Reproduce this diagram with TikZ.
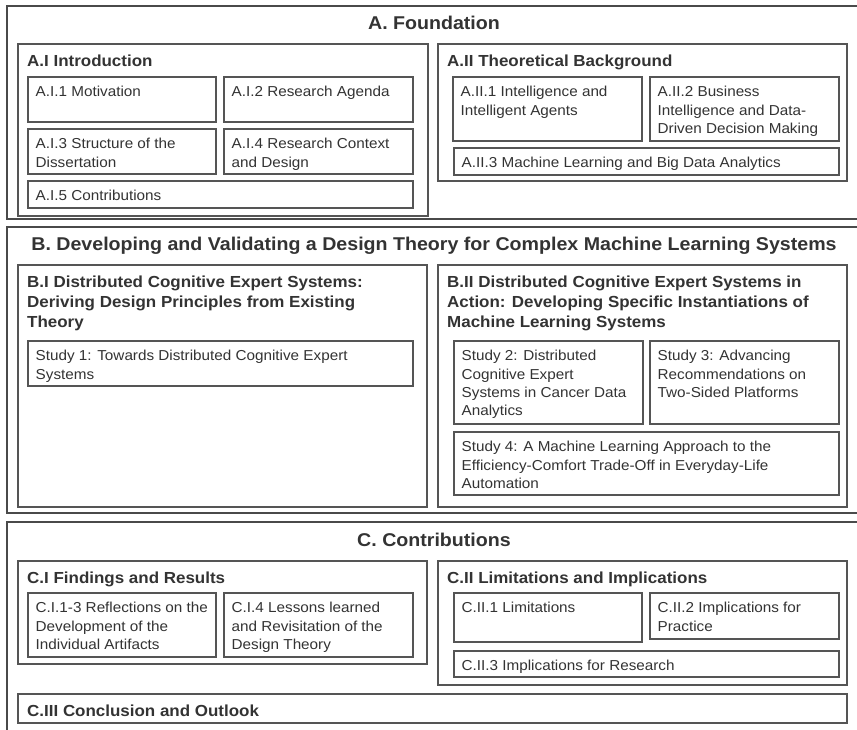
\documentclass[tikz,border=0pt]{standalone}
\usepackage{fontspec}
\setmainfont{Liberation Sans}[FakeStretch=1.06]
\usetikzlibrary{calc}
\definecolor{txtc}{HTML}{333333}
\definecolor{linec}{HTML}{555555}
\definecolor{outc}{HTML}{4a4a4a}
\newcommand\bx[5]{\node[box, minimum width=#4pt, minimum height=#5pt] (#1) at (#2,#3) {};}
\newcommand\bt[2]{\node[body] (#1t) at ([shift={(7.5pt,-9.3pt)}]#1.north west) {#2};}
\newcommand\hdt[2]{\node[head] (#1t) at ([shift={(9pt,-10.5pt)}]#1.north west) {#2};}
\begin{document}
\begin{tikzpicture}[x=1pt,y=-1pt,
 box/.style={draw=linec, line width=1.1pt, anchor=north west, inner sep=0pt, outer sep=0pt},
 body/.style={anchor=north west, inner sep=0pt, align=left, text=txtc, font=\fontsize{14.4}{18.3}\selectfont},
 head/.style={anchor=north west, inner sep=0pt, align=left, text=txtc, font=\bfseries\fontsize{16}{20}\selectfont},
 title/.style={anchor=base, inner sep=0pt, text=txtc, font=\bfseries\fontsize{18.5}{22}\selectfont},
 outer/.style={draw=outc, line width=1.4pt}]
\useasboundingbox[fill=white] (0,0) rectangle (857,729);
% outer sections
\draw[outer] (862,6) -| (7,219) -- (862,219);
\draw[outer] (862,227) -| (7,513) -- (862,513);
\draw[outer] (862,522) -| (7,735);
\node[title] (A) at (434,29) {A. Foundation};
\node[title] (B) at (434,250) {B. Developing and Validating a Design Theory for Complex Machine Learning Systems};
\node[title] (C) at (434,546) {C. Contributions};
% A.I
\bx{AI}{18}{44}{410}{172}\hdt{AI}{A.I Introduction}
\bx{A11}{28}{77}{188}{45}\bt{A11}{A.I.1 Motivation}
\bx{A12}{224}{77}{189}{45}\bt{A12}{A.I.2 Research Agenda}
\bx{A13}{28}{129}{188}{45}\bt{A13}{A.I.3 Structure of the\\Dissertation}
\bx{A14}{224}{129}{189}{45}\bt{A14}{A.I.4 Research Context\\and Design}
\bx{A15}{28}{181}{385}{27}\bt{A15}{A.I.5 Contributions}
% A.II
\bx{AII}{438}{44}{409}{137}\hdt{AII}{A.II Theoretical Background}
\bx{A21}{453}{77}{189}{64}\bt{A21}{A.II.1 Intelligence and\\Intelligent Agents}
\bx{A22}{650}{77}{189}{64}\bt{A22}{A.II.2 Business\\Intelligence and Data-\\Driven Decision Making}
\bx{A23}{454}{148}{385}{27}\bt{A23}{A.II.3 Machine Learning and Big Data Analytics}
% B.I
\bx{BI}{18}{265}{409}{242}\hdt{BI}{B.I Distributed Cognitive Expert Systems:\\Deriving Design Principles from Existing\\Theory}
\bx{S1}{28}{341}{385}{45}\bt{S1}{Study 1: Towards Distributed Cognitive Expert\\Systems}
% B.II
\bx{BII}{438}{265}{409}{242}\hdt{BII}{B.II Distributed Cognitive Expert Systems in\\Action: Developing Specific Instantiations of\\Machine Learning Systems}
\bx{S2}{454}{341}{189}{83}\bt{S2}{Study 2: Distributed\\Cognitive Expert\\Systems in Cancer Data\\Analytics}
\bx{S3}{650}{341}{189}{83}\bt{S3}{Study 3: Advancing\\Recommendations on\\Two-Sided Platforms}
\bx{S4}{454}{432}{385}{63}\bt{S4}{Study 4: A Machine Learning Approach to the\\Efficiency-Comfort Trade-Off in Everyday-Life\\Automation}
% C.I
\bx{CI}{18}{561}{409}{103}\hdt{CI}{C.I Findings and Results}
\bx{C13}{28}{593}{188}{64}\bt{C13}{C.I.1-3 Reflections on the\\Development of the\\Individual Artifacts}
\bx{C14}{224}{593}{189}{64}\bt{C14}{C.I.4 Lessons learned\\and Revisitation of the\\Design Theory}
% C.II
\bx{CII}{438}{561}{409}{124}\hdt{CII}{C.II Limitations and Implications}
\bx{C21}{454}{593}{188}{49}\bt{C21}{C.II.1 Limitations}
\bx{C22}{650}{593}{189}{46}\bt{C22}{C.II.2 Implications for\\Practice}
\bx{C23}{454}{651}{385}{26}\bt{C23}{C.II.3 Implications for Research}
% C.III
\bx{CIII}{18}{694}{829}{29}\hdt{CIII}{C.III Conclusion and Outlook}
\end{tikzpicture}
\end{document}
